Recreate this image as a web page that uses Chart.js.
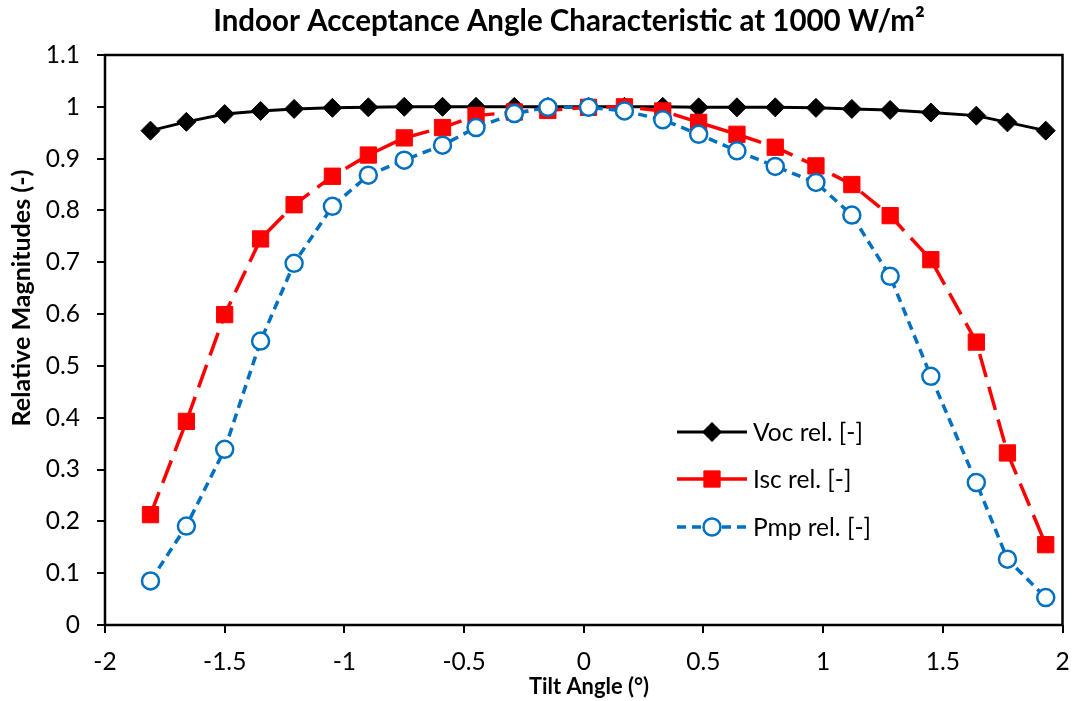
<!DOCTYPE html>
<html>
<head>
<meta charset="utf-8">
<title>Indoor Acceptance Angle Characteristic</title>
<script src="https://cdn.jsdelivr.net/npm/chart.js@4.4.1/dist/chart.umd.min.js"></script>
<style>
  html, body { margin: 0; padding: 0; background: #fff; }
  #wrap { width: 1075px; height: 701px; }
</style>
</head>
<body>
<div id="wrap"><canvas id="c" width="1075" height="701"></canvas></div>
<script>
// Measured tilt angles (degrees) and relative magnitudes
const tiltAngles = [-1.81, -1.66, -1.50, -1.35, -1.21, -1.05, -0.90, -0.75, -0.59, -0.45, -0.29, -0.15, 0.02,
                    0.17, 0.33, 0.48, 0.64, 0.80, 0.97, 1.12, 1.28, 1.45, 1.64, 1.77, 1.93];
const vocRel = [0.954, 0.971, 0.986, 0.992, 0.996, 0.998, 0.999, 1.000, 1.000, 1.000, 1.000, 1.000, 1.000,
                1.000, 1.000, 0.999, 0.999, 0.999, 0.998, 0.996, 0.994, 0.989, 0.983, 0.970, 0.954];
const iscRel = [0.213, 0.393, 0.599, 0.745, 0.811, 0.866, 0.907, 0.940, 0.960, 0.983, 0.990, 0.993, 0.999,
                1.000, 0.992, 0.970, 0.947, 0.922, 0.886, 0.850, 0.790, 0.705, 0.546, 0.332, 0.155];
const pmpRel = [0.085, 0.191, 0.339, 0.548, 0.698, 0.808, 0.868, 0.897, 0.926, 0.960, 0.987, 0.999, 0.999,
                0.992, 0.975, 0.947, 0.915, 0.885, 0.854, 0.791, 0.673, 0.480, 0.275, 0.127, 0.053];

const seriesNames = ['Voc rel. [-]', 'Isc rel. [-]', 'Pmp rel. [-]'];
const chartTitle = 'Indoor Acceptance Angle Characteristic at 1000 W/m²';
const xAxisTitle = 'Tilt Angle (°)';
const yAxisTitle = 'Relative Magnitudes (-)';
const xRange = [-2, 2];
const yRange = [0, 1.1];

const FAMILY = 'Lato, "Open Sans", "DejaVu Sans", sans-serif';

// Pick a font size so that a string spans the wanted width
function fitSize(text, weight, width) {
  const ctx = document.createElement('canvas').getContext('2d');
  ctx.font = weight + ' 100px ' + FAMILY;
  return 100 * width / ctx.measureText(text).width;
}
const labelSize = fitSize(seriesNames[0], 'normal', 110);
const titleSize = fitSize(chartTitle, 'bold', 712);
const xTitleSize = fitSize(xAxisTitle, 'bold', 120);
const yTitleSize = fitSize(yAxisTitle, 'bold', 257);

const toPoints = ys => tiltAngles.map((x, i) => ({ x, y: ys[i] }));

const fmt = v => String(+Number(v).toFixed(1));

// Frame, titles and in-plot legend
const decorations = {
  id: 'decorations',
  beforeDatasetsDraw(chart) {
    const { ctx, chartArea: a } = chart;
    ctx.save();
    ctx.strokeStyle = '#000';
    ctx.lineWidth = 2.5;
    ctx.strokeRect(a.left, a.top, a.right - a.left, a.bottom - a.top);
    ctx.restore();
  },
  afterDraw(chart) {
    const { ctx } = chart;
    ctx.save();
    ctx.fillStyle = '#000';
    ctx.textAlign = 'center';
    ctx.textBaseline = 'middle';

    ctx.font = 'bold ' + titleSize + 'px ' + FAMILY;
    ctx.fillText(chartTitle, 569, 21);

    ctx.font = 'bold ' + xTitleSize + 'px ' + FAMILY;
    ctx.fillText(xAxisTitle, 589, 687);

    ctx.save();
    ctx.translate(22, 298);
    ctx.rotate(-Math.PI / 2);
    ctx.font = 'bold ' + yTitleSize + 'px ' + FAMILY;
    ctx.fillText(yAxisTitle, 0, 0);
    ctx.restore();

    // legend
    const rows = [432, 479, 527];
    chart.data.datasets.forEach((ds, i) => {
      const y = rows[i];
      ctx.save();
      ctx.strokeStyle = ds.borderColor;
      ctx.lineWidth = ds.borderWidth;
      ctx.setLineDash(ds.legendDash || []);
      ctx.beginPath();
      ctx.moveTo(677, y);
      ctx.lineTo(747, y);
      ctx.stroke();
      ctx.setLineDash([]);
      ctx.fillStyle = ds.pointBackgroundColor;
      ctx.strokeStyle = ds.pointBorderColor;
      ctx.lineWidth = ds.pointBorderWidth;
      Chart.helpers.drawPoint(ctx, {
        pointStyle: ds.pointStyle, radius: ds.pointRadius, rotation: 0, borderWidth: ds.pointBorderWidth
      }, 712, y);
      ctx.restore();

      ctx.fillStyle = '#000';
      ctx.textAlign = 'left';
      ctx.font = labelSize + 'px ' + FAMILY;
      ctx.fillText(seriesNames[i], 753, y + 1);
    });
    ctx.restore();
  }
};

new Chart(document.getElementById('c'), {
  type: 'line',
  data: {
    datasets: [
      {
        label: seriesNames[0],
        data: toPoints(vocRel),
        borderColor: '#000000',
        borderWidth: 3,
        pointStyle: 'rectRot',
        pointRadius: 9.5,
        pointBackgroundColor: '#000000',
        pointBorderColor: '#000000',
        pointBorderWidth: 1,
        order: 3
      },
      {
        label: seriesNames[1],
        data: toPoints(iscRel),
        borderColor: '#FF0000',
        borderWidth: 3.5,
        borderDash: [24, 10],
        legendDash: [],
        pointStyle: 'rect',
        pointRadius: 11.5,
        pointBackgroundColor: '#FF0000',
        pointBorderColor: '#FF0000',
        pointBorderWidth: 1,
        order: 2
      },
      {
        label: seriesNames[2],
        data: toPoints(pmpRel),
        borderColor: '#0070C0',
        borderWidth: 3.5,
        borderDash: [9, 6],
        legendDash: [9, 6],
        pointStyle: 'circle',
        pointRadius: 8.5,
        pointBackgroundColor: '#FFFFFF',
        pointBorderColor: '#0070C0',
        pointBorderWidth: 2.5,
        order: 1
      }
    ]
  },
  options: {
    responsive: false,
    animation: false,
    devicePixelRatio: 1,
    layout: { padding: { top: 55, right: 5, left: 0, bottom: 0 } },
    plugins: {
      legend: { display: false },
      title: { display: false },
      tooltip: { enabled: false }
    },
    elements: { line: { tension: 0 } },
    scales: {
      x: {
        type: 'linear',
        min: xRange[0],
        max: xRange[1],
        afterFit: s => { s.height = 76; s.paddingLeft = 0; s.paddingRight = 0; },
        border: { display: false },
        grid: { drawOnChartArea: false, drawTicks: true, tickLength: 8, color: '#000', lineWidth: 2 },
        ticks: {
          stepSize: 0.5,
          padding: 14,
          color: '#000',
          font: { family: FAMILY, size: labelSize },
          callback: fmt,
          maxRotation: 0
        }
      },
      y: {
        type: 'linear',
        min: yRange[0],
        max: yRange[1],
        afterFit: s => { s.width = 105; s.paddingTop = 0; s.paddingBottom = 0; },
        border: { display: false },
        grid: { drawOnChartArea: false, drawTicks: true, tickLength: 8, color: '#000', lineWidth: 2 },
        ticks: {
          stepSize: 0.1,
          padding: 17,
          color: '#000',
          font: { family: FAMILY, size: labelSize },
          callback: fmt
        }
      }
    }
  },
  plugins: [decorations]
});
</script>
</body>
</html>
